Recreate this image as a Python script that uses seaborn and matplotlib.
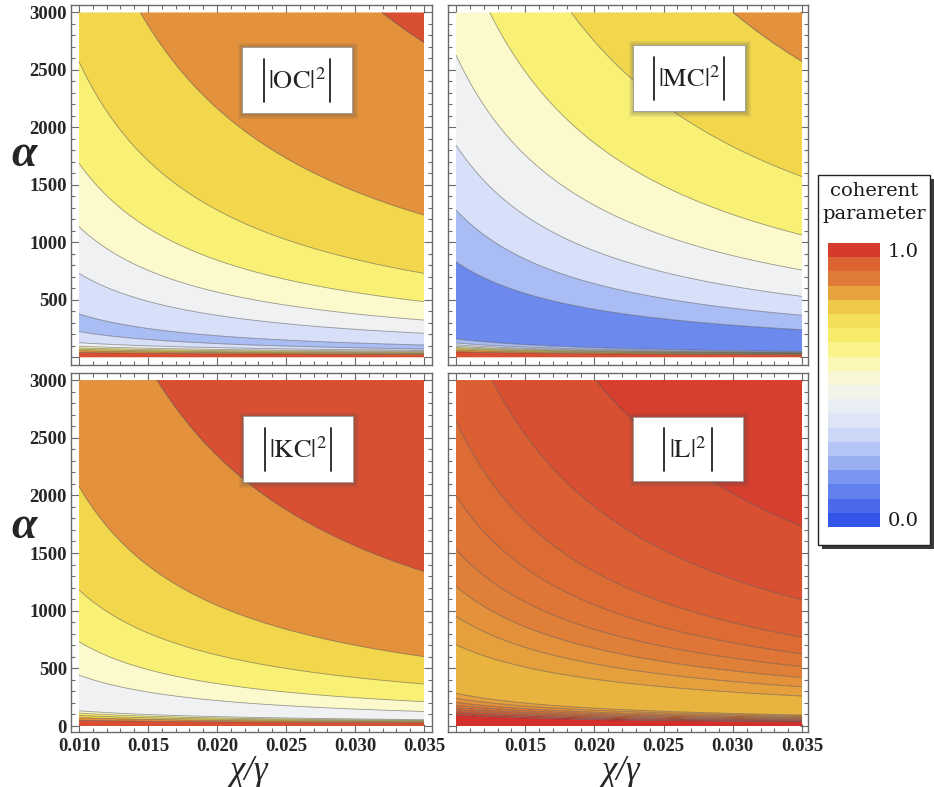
import numpy as np
import matplotlib
matplotlib.use("Agg")
import matplotlib.pyplot as plt
import seaborn as sns
from matplotlib.colors import LinearSegmentedColormap, Normalize
from matplotlib.patches import Rectangle
from matplotlib.lines import Line2D
from matplotlib.ticker import MultipleLocator, FixedLocator, FuncFormatter

# ---------------- data ----------------
x_range = [0.010, 0.035]
alpha_range = [0, 3000]
x_ticks = [0.010, 0.015, 0.020, 0.025, 0.030, 0.035]
y_ticks = [0, 500, 1000, 1500, 2000, 2500, 3000]

# contour boundaries, listed from alpha = 0 upwards:
# level value, alpha where it meets x=0.010, alpha where it meets x=0.035
oc_levels = [0.9, 0.8, 0.7, 0.6, 0.5, 0.4, 0.3, 0.3, 0.4, 0.5, 0.6, 0.7, 0.8, 0.9]
oc_alpha_left = [42, 58, 70, 82, 97, 127, 223, 377, 730, 1136, 1687, 2571, 4330, 9580]
oc_alpha_right = [24, 32, 38, 45, 52, 60, 72, 107, 209, 324, 484, 730, 1237, 2736]

mc_levels = [0.9, 0.8, 0.7, 0.6, 0.5, 0.4, 0.3, 0.2, 0.2, 0.3, 0.4, 0.5, 0.6, 0.7, 0.8]
mc_alpha_left = [48, 63, 75, 85, 95, 108, 125, 160, 831, 1281, 1846, 2629, 3730, 5490, 8970]
mc_alpha_right = [22, 27, 31, 34, 37, 40, 44, 50, 240, 366, 530, 759, 1064, 1571, 2571]

kc_levels = [0.9, 0.8, 0.7, 0.6, 0.5, 0.5, 0.6, 0.7, 0.8, 0.9]
kc_alpha_left = [50, 72, 92, 112, 132, 442, 731, 1179, 2075, 4690]
kc_alpha_right = [28, 36, 42, 48, 55, 126, 211, 364, 601, 1338]

l_levels = [0.98, 0.96, 0.94, 0.92, 0.90, 0.88, 0.86, 0.84, 0.82,
            0.82, 0.84, 0.86, 0.88, 0.90, 0.92, 0.94, 0.96]
l_alpha_left = [95, 110, 125, 142, 160, 180, 205, 240, 283,
                705, 951, 1211, 1529, 1994, 2644, 3770, 5980]
l_alpha_right = [36, 42, 48, 55, 62, 70, 78, 87, 95,
                 260, 340, 420, 515, 625, 770, 1093, 1728]

panel_names = ["OC", "MC", "KC", "L"]

# colour scale (temperature map) sampled from the legend / panels
cmap_positions = [0.0, 0.05, 0.15, 0.25, 0.35, 0.45, 0.55, 0.65, 0.75, 0.81, 0.83,
                  0.85, 0.87, 0.89, 0.91, 0.93, 0.95, 0.97, 1.0]
cmap_colors = ["#2B4BE7", "#3F5FEA", "#6C8AEE", "#AABCF4", "#D7E0F8", "#EFF1F2",
               "#FCF9CC", "#F9F175", "#F2D94E", "#E9B540", "#E6A03D",
               "#E3923B", "#E07F38", "#DF7536", "#DD6B34", "#DB6232", "#D95232",
               "#D6402E", "#D32A2A"]

# ---------------- style ----------------
sns.set_theme(style="white")
plt.rcParams["font.family"] = ["Liberation Serif", "DejaVu Serif"]
plt.rcParams["mathtext.fontset"] = "stix"

cmap = LinearSegmentedColormap.from_list("temperature", list(zip(cmap_positions, cmap_colors)))
norm = Normalize(0, 1)

W, H = 934, 787
fig = plt.figure(figsize=(W / 100, H / 100), dpi=100)
fig.patch.set_facecolor("white")


def px_rect(l, t, r, b):
    return [l / W, 1 - b / H, (r - l) / W, (b - t) / H]


def build_field(levels, a_left, a_right, step, xs, ys):
    lv = np.asarray(levels, float)
    aL = np.asarray(a_left, float)
    aR = np.asarray(a_right, float)
    q = np.log(aL / aR) / np.log(x_range[1] / x_range[0])
    Z = np.empty((len(ys), len(xs)))
    for j, x in enumerate(xs):
        b = aL * (x / x_range[0]) ** (-q)
        pa, pv = [0.0], [1.0]
        for k in range(len(lv)):
            if k > 0 and abs(lv[k] - lv[k - 1]) < 1e-9:
                pa.append(np.sqrt(b[k] * b[k - 1]))
                pv.append(lv[k] - step / 2)
            pa.append(b[k])
            pv.append(lv[k])
        pa.append(1e7)
        pv.append(lv[-1] + step / 2)
        Z[:, j] = np.interp(ys, pa, pv)
    return Z


xs = np.linspace(x_range[0], x_range[1], 400)
ys = np.unique(np.concatenate([np.linspace(0, 400, 1601), np.linspace(400, 3000, 1041)]))
X, Y = np.meshgrid(xs, ys)

panels = [
    dict(levels=oc_levels, aL=oc_alpha_left, aR=oc_alpha_right, step=0.1,
         rect=(71, 5, 432, 365), xlim=(0.00942, 0.03558), ylim=(-67, 3065),
         ylab=True, xlab=False, box=(242, 47, 352, 113), bar_dx=33, hide_y0=True),
    dict(levels=mc_levels, aL=mc_alpha_left, aR=mc_alpha_right, step=0.1,
         rect=(448, 5, 808, 365), xlim=(0.00942, 0.03543), ylim=(-67, 3065),
         ylab=False, xlab=False, box=(633, 45, 745, 111), bar_dx=35, hide_y0=False),
    dict(levels=kc_levels, aL=kc_alpha_left, aR=kc_alpha_right, step=0.1,
         rect=(71, 373, 432, 732), xlim=(0.00942, 0.03558), ylim=(-52, 3061),
         ylab=True, xlab=True, box=(243, 416, 353, 482), bar_dx=33, hide_y0=False),
    dict(levels=l_levels, aL=l_alpha_left, aR=l_alpha_right, step=0.02,
         rect=(448, 373, 808, 732), xlim=(0.00942, 0.03543), ylim=(-52, 3061),
         ylab=False, xlab=True, box=(633, 417, 743, 481), bar_dx=24, hide_y0=False,
         hide_x0=True),
]

frame_col = "#6a6a6a"
for name, p in zip(panel_names, panels):
    ax = fig.add_axes(px_rect(*p["rect"]))
    ax.set_facecolor("white")
    Z = build_field(p["levels"], p["aL"], p["aR"], p["step"], xs, ys)
    if p["step"] >= 0.05:
        lev = np.round(np.arange(0, 1.0001, p["step"]), 5)
    else:
        lev = np.round(0.8 + p["step"] * np.arange(11), 5)
    ax.contourf(X, Y, Z, levels=lev, cmap=cmap, norm=norm, antialiased=True)
    ax.contour(X, Y, Z, levels=lev[1:-1], colors="#3a3a3a", linewidths=0.6, alpha=0.5)
    ax.set_xlim(*p["xlim"])
    ax.set_ylim(*p["ylim"])
    ax.xaxis.set_major_locator(FixedLocator(x_ticks))
    ax.xaxis.set_minor_locator(MultipleLocator(0.001))
    ax.yaxis.set_major_locator(FixedLocator(y_ticks))
    ax.yaxis.set_minor_locator(MultipleLocator(100))
    ax.tick_params(which="both", direction="in", top=True, right=True, bottom=True, left=True,
                   color=frame_col, width=0.8)
    ax.tick_params(which="major", length=6)
    ax.tick_params(which="minor", length=3)
    ax.tick_params(axis="y", labelleft=p["ylab"], labelsize=13.5, pad=3)
    ax.tick_params(axis="x", labelbottom=p["xlab"], labelsize=13.5, pad=4)
    hide0 = p.get("hide_y0", False)
    ax.yaxis.set_major_formatter(FuncFormatter(
        lambda v, pos, h=hide0: "" if (h and abs(v) < 1e-9) else f"{int(round(v))}"))
    hidex = p.get("hide_x0", False)
    ax.xaxis.set_major_formatter(FuncFormatter(
        lambda v, pos, h=hidex: "" if (h and abs(v - 0.010) < 1e-9) else f"{v:.3f}"))
    for lab in ax.get_xticklabels() + ax.get_yticklabels():
        lab.set_fontweight("bold")
    for s in ax.spines.values():
        s.set_color(frame_col)
        s.set_linewidth(1.0)
        s.set_visible(True)

    # label box with soft shadow
    l, t, r, b = p["box"]
    for k in range(5, 0, -1):
        fig.add_artist(Rectangle(((l - k + 1) / W, 1 - (b + k + 1) / H),
                                 (r - l + 2 * k) / W, (b - t + 2 * k) / H,
                                 transform=fig.transFigure, facecolor="#555555",
                                 edgecolor="none", alpha=0.08, zorder=2))
    fig.add_artist(Rectangle((l / W, 1 - b / H), (r - l) / W, (b - t) / H,
                             transform=fig.transFigure, facecolor="white",
                             edgecolor="#9a9a9a", linewidth=0.6, zorder=3))
    cx, cy = (l + r) / 2, (t + b) / 2
    fig.text(cx / W, 1 - (cy + 1) / H, r"$\left|\mathrm{" + name + r"}\right|^{2}$",
             ha="center", va="center", fontsize=19, color="#222222", zorder=4)
    for sx in (-1, 1):
        xb = (cx + sx * p["bar_dx"]) / W
        fig.add_artist(Line2D([xb, xb], [1 - (cy - 21) / H, 1 - (cy + 22) / H],
                              transform=fig.transFigure, color="#222222", lw=1.3, zorder=4))

# axis labels
for yc in (155, 527):
    fig.text(24 / W, 1 - yc / H, "α", ha="center", va="center", fontsize=33,
             fontstyle="italic", fontweight="bold", family=["Liberation Serif", "DejaVu Serif"])
for xc in (249, 621):
    fig.text(xc / W, 1 - 771 / H, "χ/γ", ha="center", va="center", fontsize=25,
             fontstyle="italic", family=["Liberation Serif", "DejaVu Serif"])

# legend panel
lx0, ly0, lx1, ly1 = 818, 175, 930, 545
fig.add_artist(Rectangle(((lx0 + 4) / W, 1 - (ly1 + 4) / H), (lx1 - lx0) / W, (ly1 - ly0) / H,
                         transform=fig.transFigure, facecolor="#3a3a3a", edgecolor="none", zorder=2))
fig.add_artist(Rectangle((lx0 / W, 1 - ly1 / H), (lx1 - lx0) / W, (ly1 - ly0) / H,
                         transform=fig.transFigure, facecolor="white", edgecolor="#222222",
                         linewidth=1.0, zorder=3))
fig.text(874 / W, 1 - 191 / H, "coherent", ha="center", va="center", fontsize=14,
         family=["DejaVu Serif"], color="#1a1a1a", zorder=4)
fig.text(874 / W, 1 - 214 / H, "parameter", ha="center", va="center", fontsize=14,
         family=["DejaVu Serif"], color="#1a1a1a", zorder=4)

band_mids = np.round(np.arange(0.975, 0, -0.05), 4).reshape(-1, 1)
cax = fig.add_axes(px_rect(828, 243, 880, 527))
cax.set_zorder(5)
sns.heatmap(band_mids, ax=cax, cmap=cmap, vmin=0, vmax=1, cbar=False,
            xticklabels=False, yticklabels=False)
cax.set_axis_off()
fig.text(888 / W, 1 - 252 / H, "1.0", ha="left", va="center", fontsize=14,
         family=["DejaVu Serif"], color="#1a1a1a", zorder=6)
fig.text(888 / W, 1 - 521 / H, "0.0", ha="left", va="center", fontsize=14,
         family=["DejaVu Serif"], color="#1a1a1a", zorder=6)

fig.savefig("out.png", dpi=100, facecolor="white")
